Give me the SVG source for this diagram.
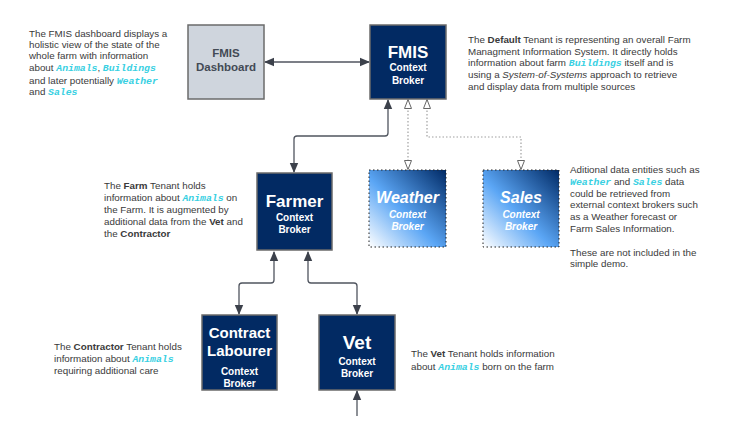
<svg xmlns="http://www.w3.org/2000/svg" width="730" height="441" viewBox="0 0 730 441">
<defs>
<style>
.txt{font-family:"Liberation Sans",Arial,sans-serif;font-size:9.8px;fill:#3a3a3a}
.b{font-weight:bold}
.i{font-style:italic}
.m{font-family:"Liberation Mono","Courier New",monospace;font-weight:bold;font-style:italic;fill:#38d0e2}
.node{fill:#022a63;stroke:#6b6b6b;stroke-width:1.5}
.dash{fill:#cfd5dd;stroke:#6b6b6b;stroke-width:1.5}
.ext{stroke:#222;stroke-width:1;stroke-dasharray:1.5,2.5}
.nt{font-family:"Liberation Sans",Arial,sans-serif;font-weight:bold;fill:#ffffff;text-anchor:middle}
.dt{font-family:"Liberation Sans",Arial,sans-serif;font-weight:bold;fill:#434a55;text-anchor:middle;font-size:11.5px}
.conn{fill:none;stroke:#50555f;stroke-width:1.3}
.dot{fill:none;stroke:#a0a0a0;stroke-width:1.2;stroke-dasharray:1.5,2}
</style>
<marker id="ah" markerUnits="userSpaceOnUse" markerWidth="10" markerHeight="10" viewBox="0 0 10 10" refX="9" refY="5" orient="auto-start-reverse">
<path d="M0,0.8 L10,5 L0,9.2 Z" fill="#3c414b"/>
</marker>
<marker id="oh" markerUnits="userSpaceOnUse" markerWidth="10" markerHeight="10" viewBox="0 0 10 10" refX="9" refY="5" orient="auto-start-reverse">
<path d="M0.5,1.5 L9.5,5 L0.5,8.5 Z" fill="#ffffff" stroke="#666" stroke-width="1"/>
</marker>
<linearGradient id="g" x1="1" y1="0" x2="0" y2="1">
<stop offset="0" stop-color="#002a66"/>
<stop offset="0.55" stop-color="#5ba6f5"/>
<stop offset="1" stop-color="#ffffff"/>
</linearGradient>
</defs>
<rect width="730" height="441" fill="#ffffff"/>

<g id="connectors">
<path class="conn" d="M265,62 L369,62" marker-start="url(#ah)" marker-end="url(#ah)"/>
<path class="conn" d="M388,100 L388,133 Q388,136 385,136 L297,136 Q294,136 294,139 L294,172" marker-start="url(#ah)" marker-end="url(#ah)"/>
<path class="dot" d="M408,100 L408,169" marker-start="url(#oh)" marker-end="url(#oh)"/>
<path class="dot" d="M427,100 L427,137 L521,137 L521,169" marker-start="url(#oh)" marker-end="url(#oh)"/>
<path class="conn" d="M274,252 L274,280 Q274,283 271,283 L242,283 Q239,283 239,286 L239,314" marker-start="url(#ah)" marker-end="url(#ah)"/>
<path class="conn" d="M308,252 L308,280 Q308,283 311,283 L354,283 Q357,283 357,286 L357,314" marker-start="url(#ah)" marker-end="url(#ah)"/>
<path class="conn" d="M357,416 L357,391" marker-end="url(#ah)"/>
</g>

<g id="fmis-dashboard">
<rect class="dash" x="188" y="25" width="76" height="74"/>
<text class="dt" x="226" y="57">FMIS</text>
<text class="dt" x="226" y="71">Dashboard</text>
</g>

<g id="fmis-broker">
<rect class="node" x="370" y="25" width="76" height="74"/>
<text class="nt" x="408" y="58" font-size="17">FMIS</text>
<text class="nt" x="408" y="71" font-size="10">Context</text>
<text class="nt" x="408" y="84" font-size="10">Broker</text>
</g>

<g id="farmer">
<rect class="node" x="257" y="173" width="75" height="77"/>
<text class="nt" x="294.5" y="207" font-size="17">Farmer</text>
<text class="nt" x="294.5" y="221" font-size="10">Context</text>
<text class="nt" x="294.5" y="233" font-size="10">Broker</text>
</g>

<g id="weather">
<rect fill="url(#g)" x="369" y="170" width="77" height="77"/>
<rect class="ext" fill="none" x="369" y="170" width="77" height="77"/>
<text class="nt i" x="407.5" y="203" font-size="16">Weather</text>
<text class="nt i" x="407.5" y="218" font-size="10">Context</text>
<text class="nt i" x="407.5" y="230" font-size="10">Broker</text>
</g>

<g id="sales">
<rect fill="url(#g)" x="483" y="170" width="76" height="77"/>
<rect class="ext" fill="none" x="483" y="170" width="76" height="77"/>
<text class="nt i" x="521" y="203" font-size="16">Sales</text>
<text class="nt i" x="521" y="218" font-size="10">Context</text>
<text class="nt i" x="521" y="230" font-size="10">Broker</text>
</g>

<g id="contract-labourer">
<rect class="node" x="202" y="315" width="75" height="75"/>
<text class="nt" x="239.5" y="338" font-size="15">Contract</text>
<text class="nt" x="239.5" y="356" font-size="15">Labourer</text>
<text class="nt" x="239.5" y="375" font-size="10">Context</text>
<text class="nt" x="239.5" y="387" font-size="10">Broker</text>
</g>

<g id="vet">
<rect class="node" x="319" y="315" width="76" height="75"/>
<text class="nt" x="357" y="349" font-size="19">Vet</text>
<text class="nt" x="357" y="365" font-size="10">Context</text>
<text class="nt" x="357" y="377" font-size="10">Broker</text>
</g>

<g id="note-dashboard" class="txt">
<text x="29" y="37">The FMIS dashboard displays a</text>
<text x="29" y="48">holistic view of the state of the</text>
<text x="29" y="59">whole farm with information</text>
<text x="29" y="71">about <tspan class="m">Animals</tspan>, <tspan class="m">Buildings</tspan></text>
<text x="29" y="84">and later potentially <tspan class="m">Weather</tspan></text>
<text x="29" y="95">and <tspan class="m">Sales</tspan></text>
</g>

<g id="note-default" class="txt">
<text x="468" y="43">The <tspan class="b">Default</tspan> Tenant is representing an overall Farm</text>
<text x="468" y="55">Managment Information System. It directly holds</text>
<text x="468" y="66">information about farm <tspan class="m">Buildings</tspan> itself and is</text>
<text x="468" y="78">using a <tspan class="i">System-of-Systems</tspan> approach to retrieve</text>
<text x="468" y="90">and display data from multiple sources</text>
</g>

<g id="note-farm" class="txt">
<text x="104" y="189">The <tspan class="b">Farm</tspan> Tenant holds</text>
<text x="104" y="201">information about <tspan class="m">Animals</tspan> on</text>
<text x="104" y="213">the Farm. It is augmented by</text>
<text x="104" y="225">additional data from the <tspan class="b">Vet</tspan> and</text>
<text x="104" y="237">the <tspan class="b">Contractor</tspan></text>
</g>

<g id="note-additional" class="txt">
<text x="570" y="173">Aditional data entities such as</text>
<text x="570" y="185"><tspan class="m">Weather</tspan> and <tspan class="m">Sales</tspan> data</text>
<text x="570" y="197">could be retrieved from</text>
<text x="570" y="208">external context brokers such</text>
<text x="570" y="220">as a Weather forecast or</text>
<text x="570" y="232">Farm Sales Information.</text>
<text x="570" y="256">These are not included in the</text>
<text x="570" y="267">simple demo.</text>
</g>

<g id="note-contractor" class="txt">
<text x="54" y="350">The <tspan class="b">Contractor</tspan> Tenant holds</text>
<text x="54" y="362">information about <tspan class="m">Animals</tspan></text>
<text x="54" y="374">requiring additional care</text>
</g>

<g id="note-vet" class="txt">
<text x="411" y="357">The <tspan class="b">Vet</tspan> Tenant holds information</text>
<text x="411" y="370">about <tspan class="m">Animals</tspan> born on the farm</text>
</g>
</svg>
